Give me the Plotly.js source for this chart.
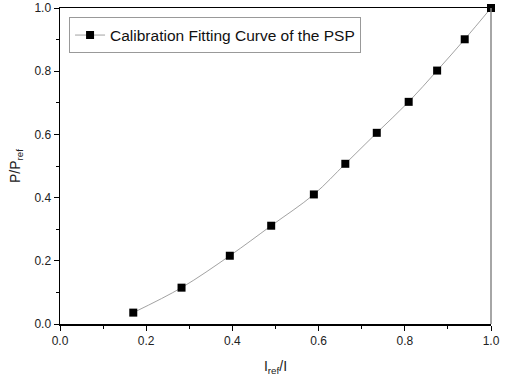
<!DOCTYPE html>
<html>
<head>
<meta charset="utf-8">
<script src="https://cdn.plot.ly/plotly-3.0.1.min.js"></script>
<style>html,body{margin:0;padding:0;background:#fff;}#chart{width:512px;height:382px;}</style>
</head>
<body>
<div id="chart"></div>
<script>
const seriesName = "Calibration Fitting Curve of the PSP";
const xValues = [0.170, 0.282, 0.394, 0.490, 0.589, 0.662, 0.735, 0.809, 0.875, 0.939, 1.0];
const yValues = [0.036, 0.115, 0.216, 0.311, 0.410, 0.507, 0.605, 0.703, 0.802, 0.901, 1.0];
const tickVals = [0, 0.2, 0.4, 0.6, 0.8, 1.0];
const tickText = ["0.0", "0.2", "0.4", "0.6", "0.8", "1.0"];

const fontFam = "Liberation Sans, Arial, sans-serif";
const trace = {
  x: xValues, y: yValues, name: seriesName,
  type: 'scatter', mode: 'lines+markers',
  line: {color: '#8a8a8a', width: 0.8, shape: 'spline'},
  marker: {symbol: 'square', size: 8, color: '#000'},
  showlegend: true, cliponaxis: false
};
const axisCommon = {
  range: [0, 1], tickvals: tickVals, ticktext: tickText,
  ticks: 'outside', ticklen: 5, tickwidth: 1, tickcolor: '#000',
  showline: true, linecolor: '#000', linewidth: 1.5,
  showgrid: false, zeroline: false,
  tickfont: {family: fontFam, size: 12, color: '#222'},
  minor: {dtick: 0.1, tick0: 0, ticks: 'outside', ticklen: 3, tickcolor: '#000', showgrid: false}
};
const layout = {
  width: 512, height: 382,
  margin: {l: 60, r: 21, t: 8, b: 58},
  paper_bgcolor: '#fff', plot_bgcolor: '#fff',
  font: {family: fontFam, color: '#000'},
  xaxis: Object.assign({}, axisCommon, {
    mirror: true,
    title: {text: 'I<sub>ref</sub>/I', font: {family: fontFam, size: 14, color: '#222'}, standoff: 14}
  }),
  yaxis: Object.assign({}, axisCommon, {
    mirror: false,
    title: {text: 'P/P<sub>ref</sub>', font: {family: fontFam, size: 14, color: '#222'}, standoff: 10}
  }),
  shapes: [{type: 'line', xref: 'paper', yref: 'paper', x0: 1, x1: 1, y0: 0, y1: 1,
            line: {color: '#888', width: 1.5}}],
  legend: {
    x: 0.021, y: 0.97, xanchor: 'left', yanchor: 'top',
    bgcolor: '#fff', bordercolor: '#999', borderwidth: 1,
    font: {family: fontFam, size: 15.5, color: '#111'},
    tracegroupgap: 0, itemwidth: 30
  }
};
Plotly.newPlot('chart', [trace], layout, {displayModeBar: false, staticPlot: true});
</script>
</body>
</html>
